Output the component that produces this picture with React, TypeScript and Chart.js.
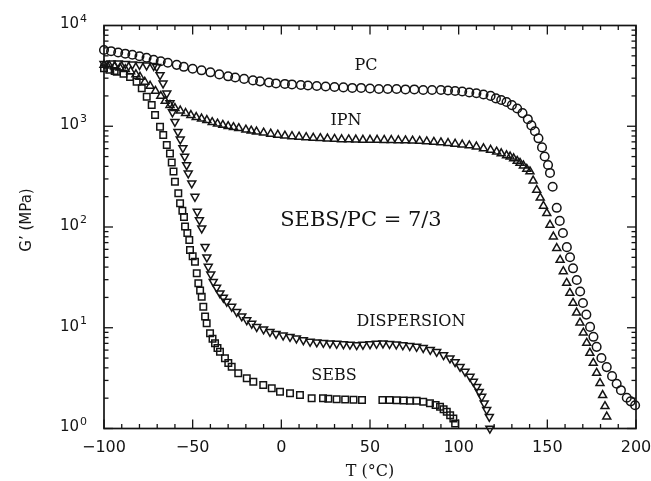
import React, { useEffect, useRef } from "react";
import { Chart, registerables } from "chart.js";

Chart.register(...registerables);

// Storage modulus G' (MPa) against temperature T (°C), SEBS/PC = 7/3 blends

const pcT = [
  -100, -96, -92, -88, -84, -80, -76, -72, -68, -64, -59, -55, -50, -45, -40, -35, -30, -26, -21, -16,
  -12, -7, -3, 2, 6, 11, 15, 20, 25, 30, 35, 40, 45, 50, 55, 60, 65, 70, 75, 80,
  85, 90, 94, 98, 102, 106, 110, 114, 118, 121, 124, 127, 130, 133, 136, 139, 141, 143, 145, 147,
  148.5, 150.4, 151.5, 153, 155.3, 157, 158.8, 161, 162.8, 164.5, 166.6, 168.5, 170.1, 172, 174.1, 176, 177.8, 180.5, 183.5, 186.5,
  189.1, 191.5, 194.8, 197, 199.5,
];
const pcG = [
  5710, 5560, 5400, 5250, 5130, 4950, 4790, 4570, 4420, 4270, 4070, 3890, 3720, 3590, 3430, 3270, 3130, 3050, 2950, 2850,
  2790, 2720, 2660, 2630, 2600, 2570, 2540, 2510, 2480, 2455, 2430, 2400, 2400, 2370, 2345, 2345, 2345, 2320, 2320, 2290,
  2290, 2290, 2265, 2240, 2215, 2165, 2125, 2065, 2000, 1890, 1820, 1740, 1620, 1500, 1350, 1175, 1020, 891, 759, 617,
  501, 412, 344, 251, 155, 115, 87.1, 63.1, 50.1, 38.9, 29.8, 22.9, 17.6, 13.5, 10.2, 8.13, 6.46, 5.01, 4.07, 3.31,
  2.78, 2.4, 2.02, 1.86, 1.7,
];

const ipnT = [
  -100, -97, -94, -91, -88, -85, -82, -79.7, -77, -74, -71, -68, -65.5, -62.8, -60, -57, -54, -51, -48, -45,
  -42, -39, -36, -33, -30, -27, -24, -20, -17, -14, -10, -6, -2, 2, 6, 10, 14, 18, 22, 26,
  30, 34, 38, 42, 46, 50, 54, 58, 62, 66, 70, 74, 78, 82, 86, 90, 94, 98, 102, 106,
  110, 114, 118, 121.4, 124, 127, 129, 131, 133, 134.6, 136.5, 138.4, 140.2, 142, 144, 146, 147.8, 149.7, 151.5, 153.4,
  155.3, 157.2, 159, 160.9, 162.7, 164.5, 166.5, 168.4, 170.3, 172.2, 174, 175.9, 177.8, 179.7, 181.2, 182.5, 183.5,
];
const ipnG = [
  4055, 3981, 3890, 3802, 3673, 3508, 3273, 3090, 2754, 2512, 2239, 1995, 1778, 1622, 1514, 1429, 1349, 1288, 1230, 1189,
  1148, 1096, 1059, 1028, 1000, 977, 955, 923, 902, 883, 861, 841, 822, 804, 794, 785, 776, 767, 759, 753,
  746, 741, 738, 735, 731, 731, 731, 729, 728, 724, 721, 718, 713, 705, 697, 689, 679, 668, 656, 643,
  627, 603, 582, 558, 537, 513, 499, 479, 452, 432, 407, 376, 355, 288, 233, 195, 162, 137, 105, 80.2,
  61.7, 47.0, 36.3, 27.8, 22.1, 17.6, 14.1, 11.2, 8.91, 7.06, 5.62, 4.47, 3.55, 2.82, 2.14, 1.66, 1.31,
];

const dispT = [
  -100, -96, -92, -88, -84, -80, -76, -72, -70.3, -68.4, -66.7, -64.6, -62.8, -61.4, -60, -58.3, -57, -55.5, -54.5, -53.4,
  -52.5, -50.5, -48.7, -47.4, -46.2, -44.9, -43, -42, -41.2, -39.8, -38.4, -36.5, -34.6, -32.7, -30.8, -28, -25.2, -22.3, -19.5, -16.7,
  -13.9, -10, -6.4, -3, 1, 4.9, 8.5, 12.4, 16.2, 20, 23.7, 27.4, 31.2, 35, 38.7, 42.5, 46, 50, 53.7, 57.3,
  61, 64.8, 68.5, 72.4, 76.3, 80, 84, 87.6, 91.5, 95.1, 98, 100.8, 103.6, 106.4, 108.3, 110.2, 111.6, 113, 114.4, 115.8,
  117.3, 117.6,
];
const dispG = [
  4169, 4217, 4217, 4169, 4121, 4074, 4027, 3981, 3890, 3228, 2667, 2123, 1698, 1380, 1109, 883, 741, 608, 501, 412,
  341, 272, 200, 142, 117, 97.1, 63.7, 50.1, 40.4, 33.9, 28.6, 25.1, 22.0, 19.95, 18.2, 16.2, 14.4, 13.0, 11.9, 11.0,
  10.2, 9.66, 9.14, 8.71, 8.41, 8.15, 7.85, 7.55, 7.28, 7.18, 7.1, 7.01, 6.95, 6.89, 6.82, 6.75, 6.81, 6.89, 6.95, 7.01,
  6.92, 6.84, 6.73, 6.61, 6.49, 6.31, 6.05, 5.78, 5.37, 4.98, 4.57, 4.1, 3.67, 3.27, 2.92, 2.6, 2.32, 2.07, 1.78, 1.53,
  1.31, 1.0,
];

const sebsT = [
  -100, -97, -94, -92.8, -89, -85.3, -81.6, -78.7, -75.9, -73.1, -71.2, -68.4, -66.6, -64.6, -62.8, -61.8, -60.8, -60, -58.1, -57.1,
  -55.8, -54.9, -54.3, -53, -51.9, -51.5, -50, -48.7, -47.7, -46.8, -45.8, -44.9, -44, -43, -42.1, -40.2, -38.8, -37.4, -36, -34.6,
  -31.8, -29.9, -28, -24.3, -19.5, -15.8, -10.2, -5.4, -0.75, 4.9, 10.5, 17.1, 23.5, 26.5, 31.2, 36, 40.7, 45.5, 57, 61,
  65, 69, 72.5, 76.3, 80, 83.8, 87, 89.5, 91.5, 93.3, 95.2, 97, 98,
];
const sebsG = [
  3758, 3631, 3532, 3475, 3311, 3090, 2767, 2382, 1963, 1622, 1294, 991, 818, 652, 537, 437, 355, 282, 216, 172,
  145, 126, 101, 87.1, 74.3, 59.2, 51.3, 45.3, 34.7, 27.6, 23.4, 20.3, 16.2, 12.9, 11.1, 8.81, 7.76, 7.01, 6.31, 5.78,
  4.98, 4.47, 4.1, 3.53, 3.15, 2.91, 2.7, 2.51, 2.32, 2.24, 2.15, 2.0, 2.0, 1.97, 1.95, 1.94, 1.93, 1.92, 1.92, 1.92,
  1.91, 1.9, 1.89, 1.89, 1.84, 1.78, 1.71, 1.64, 1.55, 1.47, 1.35, 1.26, 1.12,
];

// Axis tick values
const xTickValues = [-100, -50, 0, 50, 100, 150, 200];
const yExponents = [0, 1, 2, 3, 4];

const X_MIN = -100;
const X_MAX = 200;
const X_MAJOR = 50;
const X_MINOR = 10;

const INK = "#141414";
const LABEL_SANS = "'DejaVu Sans', sans-serif";
const LABEL_SERIF = "'DejaVu Serif', serif";

// Curve labels, anchored in data coordinates
const curveLabels = [
  { text: "PC", x: 47.7, y: 3960, size: 16 },
  { text: "IPN", x: 36.5, y: 1130, size: 16 },
  { text: "SEBS/PC = 7/3", x: 44.9, y: 117, size: 21 },
  { text: "DISPERSION", x: 73.1, y: 11.4, size: 16 },
  { text: "SEBS", x: 29.7, y: 3.32, size: 16 },
];

const toPoints = (xs: number[], ys: number[]) => xs.map((x, i) => ({ x, y: ys[i] }));

const axesPlugin = {
  id: "framedAxes",
  afterDraw(chart: any) {
    const { ctx, chartArea: a, scales } = chart;
    const xs = scales.x;
    const ys = scales.y;
    ctx.save();
    ctx.strokeStyle = INK;
    ctx.fillStyle = INK;

    const seg = (x1: number, y1: number, x2: number, y2: number) => {
      ctx.beginPath();
      ctx.moveTo(x1, y1);
      ctx.lineTo(x2, y2);
      ctx.stroke();
    };

    // inward ticks on all four sides
    ctx.lineWidth = 1.3;
    for (let v = X_MIN; v <= X_MAX; v += X_MINOR) {
      const px = xs.getPixelForValue(v);
      const len = v % X_MAJOR === 0 ? 9 : 4.5;
      seg(px, a.bottom, px, a.bottom - len);
      seg(px, a.top, px, a.top + len);
    }
    for (let e = 0; e < 4; e++) {
      for (let m = 1; m <= 9; m++) {
        const py = ys.getPixelForValue(m * Math.pow(10, e));
        const len = m === 1 ? 9 : 4.5;
        seg(a.left, py, a.left + len, py);
        seg(a.right, py, a.right - len, py);
      }
    }

    // frame
    ctx.lineWidth = 1.7;
    ctx.strokeRect(a.left, a.top, a.right - a.left, a.bottom - a.top);

    // x tick labels
    ctx.font = `16px ${LABEL_SANS}`;
    ctx.textAlign = "center";
    ctx.textBaseline = "middle";
    for (const v of xTickValues) {
      const label = v < 0 ? `\u2212${Math.abs(v)}` : `${v}`;
      ctx.fillText(label, xs.getPixelForValue(v), a.bottom + 19);
    }

    // y tick labels: 10 with a raised exponent
    for (const e of yExponents) {
      const py = ys.getPixelForValue(Math.pow(10, e));
      ctx.font = `15px ${LABEL_SANS}`;
      ctx.textAlign = "right";
      ctx.textBaseline = "middle";
      ctx.fillText("10", a.left - 25, py - 1);
      ctx.font = `11px ${LABEL_SANS}`;
      ctx.textAlign = "left";
      ctx.textBaseline = "alphabetic";
      ctx.fillText(`${e}`, a.left - 24, py - 4);
    }

    // axis titles
    ctx.font = `16px ${LABEL_SERIF}`;
    ctx.textAlign = "center";
    ctx.textBaseline = "middle";
    ctx.fillText("T (\u00B0C)", (a.left + a.right) / 2, a.bottom + 43);

    ctx.save();
    ctx.translate(27, (a.top + a.bottom) / 2 - 7);
    ctx.rotate(-Math.PI / 2);
    ctx.font = `15px ${LABEL_SANS}`;
    ctx.fillText("G\u2019 (MPa)", 0, 0);
    ctx.restore();

    // curve labels
    for (const l of curveLabels) {
      ctx.font = `${l.size}px ${LABEL_SERIF}`;
      ctx.textAlign = "center";
      ctx.textBaseline = "middle";
      ctx.fillText(l.text, xs.getPixelForValue(l.x), ys.getPixelForValue(l.y));
    }
    ctx.restore();
  },
};

export default function App() {
  const canvasRef = useRef<HTMLCanvasElement>(null);

  useEffect(() => {
    const canvas = canvasRef.current;
    if (!canvas) return;
    const marker = {
      showLine: false,
      borderColor: INK,
      backgroundColor: "rgba(0,0,0,0)",
      pointBorderWidth: 1.5,
      clip: false as const,
    };
    const chart = new Chart(canvas, {
      type: "scatter",
      data: {
        datasets: [
          { ...marker, label: "PC", data: toPoints(pcT, pcG), pointStyle: "circle", pointRadius: 4.3 },
          { ...marker, label: "IPN", data: toPoints(ipnT, ipnG), pointStyle: "triangle", pointRadius: 4.6 },
          {
            ...marker,
            label: "DISPERSION",
            data: toPoints(dispT, dispG),
            pointStyle: "triangle",
            rotation: 180,
            pointRadius: 4.6,
          },
          { ...marker, label: "SEBS", data: toPoints(sebsT, sebsG), pointStyle: "rect", pointRadius: 4.6 },
        ],
      },
      options: {
        responsive: false,
        animation: false,
        devicePixelRatio: 1,
        layout: { padding: { left: 104, right: 15, top: 25.5, bottom: 52.5 } },
        plugins: { legend: { display: false }, tooltip: { enabled: false } },
        scales: {
          x: { type: "linear", min: X_MIN, max: X_MAX, display: false },
          y: { type: "logarithmic", min: 1, max: 10000, display: false },
        },
      },
      plugins: [axesPlugin],
    });
    return () => chart.destroy();
  }, []);

  return (
    <div style={{ position: "fixed", left: 0, top: 0, width: 651, height: 481, background: "#ffffff" }}>
      <canvas ref={canvasRef} width={651} height={481} style={{ display: "block" }} />
    </div>
  );
}
